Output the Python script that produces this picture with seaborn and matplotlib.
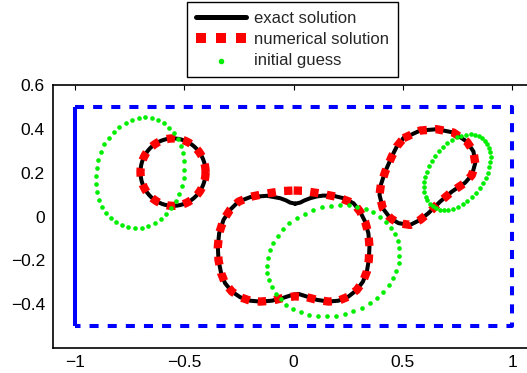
import numpy as np
import pandas as pd
import matplotlib
matplotlib.use("Agg")
import matplotlib.pyplot as plt
import seaborn as sns

# ---------------- data ----------------
# exact solution, left ear: circle (centre, radii)
ear_left_center = [-0.552, 0.203]
ear_left_radius = [0.149, 0.154]

# exact solution, head (traced)
head_x = [0.007, 0.030, 0.050, 0.076, 0.106, 0.136, 0.182, 0.228, 0.274, 0.304,
          0.327, 0.342, 0.347, 0.344, 0.335, 0.317, 0.289, 0.251, 0.205, 0.159,
          0.106, 0.060, 0.022, -0.008, -0.054, -0.100, -0.153, -0.199, -0.245,
          -0.283, -0.314, -0.332, -0.344, -0.347, -0.341, -0.321, -0.291, -0.253,
          -0.199, -0.123, -0.062, -0.035, -0.016, 0.007]
head_y = [0.059, 0.064, 0.074, 0.084, 0.092, 0.096, 0.095, 0.084, 0.061, 0.023,
          -0.023, -0.076, -0.137, -0.198, -0.251, -0.297, -0.335, -0.365, -0.384,
          -0.388, -0.380, -0.365, -0.353, -0.358, -0.373, -0.384, -0.388, -0.384,
          -0.368, -0.342, -0.304, -0.258, -0.198, -0.137, -0.076, -0.015, 0.031,
          0.068, 0.089, 0.095, 0.084, 0.074, 0.064, 0.059]

# numerical solution, head (traced)
num_head_x = [0.000, 0.040, 0.120, 0.198, 0.274, 0.304, 0.327, 0.342, 0.347, 0.344,
              0.335, 0.317, 0.289, 0.251, 0.205, 0.159, 0.106, 0.060, 0.005, -0.054,
              -0.100, -0.153, -0.199, -0.245, -0.283, -0.314, -0.332, -0.344, -0.347,
              -0.341, -0.321, -0.291, -0.253, -0.200, -0.127, -0.045, 0.000]
num_head_y = [0.119, 0.118, 0.106, 0.090, 0.061, 0.023, -0.023, -0.076, -0.137, -0.198,
              -0.251, -0.297, -0.335, -0.365, -0.384, -0.388, -0.380, -0.368, -0.364,
              -0.373, -0.384, -0.388, -0.384, -0.368, -0.342, -0.304, -0.258, -0.198,
              -0.137, -0.076, -0.015, 0.031, 0.068, 0.090, 0.105, 0.117, 0.119]

# exact (and numerical) solution, right ear (traced)
ear_right_x = [0.503, 0.579, 0.655, 0.731, 0.793, 0.823, 0.831, 0.816, 0.785, 0.724,
               0.670, 0.617, 0.579, 0.533, 0.480, 0.442, 0.408, 0.393, 0.399, 0.419,
               0.449, 0.472, 0.503]
ear_right_y = [0.358, 0.393, 0.399, 0.384, 0.342, 0.297, 0.244, 0.190, 0.155, 0.114,
               0.068, 0.016, -0.015, -0.038, -0.030, -0.007, 0.038, 0.099, 0.145, 0.205,
               0.274, 0.320, 0.358]

# initial guess ellipses
guess_cx = [-0.703, 0.181, 0.749]
guess_cy = [0.200, -0.201, 0.203]
guess_a = [0.255, 0.308, 0.193]
guess_b = [0.200, 0.249, 0.126]
guess_angle_deg = [78, 17, 54]
guess_npts = [42, 46, 44]

# domain box
box_x = [-1, 1, 1, -1]
box_y = [0.5, 0.5, -0.5, -0.5]
wall_x = [-1, -1]
wall_y = [-0.5, 0.5]

xticks = [-1, -0.5, 0, 0.5, 1]
yticks = [-0.4, -0.2, 0, 0.2, 0.4, 0.6]
legend_labels = ["exact solution", "numerical solution", "initial guess"]

# ---------------- drawing ----------------
sns.set_theme(style="white")
plt.rcParams["font.family"] = ["Liberation Sans", "DejaVu Sans"]

W, H = 527, 373
fig = plt.figure(figsize=(W / 100, H / 100), dpi=100)
ax = fig.add_axes([53.3 / W, (H - 348.0) / H, 2.2 * 218.5 / W, 1.2 * 219 / H])

tt = np.linspace(0, 2 * np.pi, 200)
ear_l = pd.DataFrame({
    "x": ear_left_center[0] + ear_left_radius[0] * np.cos(tt),
    "y": ear_left_center[1] + ear_left_radius[1] * np.sin(tt),
})
head = pd.DataFrame({"x": head_x, "y": head_y})
num_head = pd.DataFrame({"x": num_head_x, "y": num_head_y})
ear_r = pd.DataFrame({"x": ear_right_x, "y": ear_right_y})

# blue domain
sns.lineplot(x=box_x, y=box_y, sort=False, estimator=None, ax=ax, color="#0000ff",
             lw=2.9, linestyle=(0, (2.25, 2.25)), dash_capstyle="butt")
sns.lineplot(x=wall_x, y=wall_y, sort=False, estimator=None, ax=ax, color="#0000ff",
             lw=2.9, solid_capstyle="butt")

black_kw = dict(sort=False, estimator=None, ax=ax, color="black", lw=2.9,
                solid_capstyle="round", solid_joinstyle="round")
for df in (ear_l, head, ear_r):
    sns.lineplot(data=df, x="x", y="y", **black_kw)
h_exact = ax.lines[-1]

red_kw = dict(sort=False, estimator=None, ax=ax, color="#ff0000", lw=6.0,
              linestyle=(0, (1, 1)), dash_capstyle="butt")
for df in (ear_l, num_head, ear_r):
    sns.lineplot(data=df, x="x", y="y", **red_kw)
h_num = ax.lines[-1]

for cx, cy, a, b, ang, n in zip(guess_cx, guess_cy, guess_a, guess_b,
                                guess_angle_deg, guess_npts):
    t = np.linspace(0, 2 * np.pi, n, endpoint=False)
    phi = np.deg2rad(ang)
    gx = cx + a * np.cos(t) * np.cos(phi) - b * np.sin(t) * np.sin(phi)
    gy = cy + a * np.cos(t) * np.sin(phi) + b * np.sin(t) * np.cos(phi)
    sns.scatterplot(x=gx, y=gy, ax=ax, color="#00ee00", s=11, linewidth=0,
                    marker="o", zorder=5)
h_guess = ax.collections[-1]

ax.set_xlim(-1.1, 1.1)
ax.set_ylim(-0.6, 0.6)
ax.set_xticks(xticks)
ax.set_xticklabels(["\u22121", "\u22120.5", "0", "0.5", "1"])
ax.set_yticks(yticks)
ax.set_yticklabels(["\u22120.4", "\u22120.2", "0", "0.2", "0.4", "0.6"])
ax.set_xlabel("")
ax.set_ylabel("")
ax.tick_params(direction="in", top=True, right=True, length=3.6, width=0.8,
               labelsize=12.5, colors="black", pad=5)
ax.tick_params(axis="y", pad=6)
for sp in ax.spines.values():
    sp.set_color("black")
    sp.set_linewidth(1.2)
ax.set_facecolor("white")

leg = fig.legend(handles=[h_exact, h_num, h_guess], labels=legend_labels,
                 loc="upper center", bbox_to_anchor=(292.5 / W, 1 - 2 / H),
                 bbox_transform=fig.transFigure, frameon=True, fancybox=False,
                 edgecolor="black", framealpha=1, fontsize=12, handlelength=3.0,
                 handletextpad=0.45, borderpad=0.55, labelspacing=0.36,
                 borderaxespad=0, scatterpoints=1)
leg.get_frame().set_linewidth(1.0)
lh = leg.legend_handles
lh[0].set_linewidth(3.6)
lh[1].set_linewidth(7.2)
lh[1].set_linestyle((0, (1, 1)))
lh[2].set_sizes([16])

fig.savefig("out.png", dpi=100)
